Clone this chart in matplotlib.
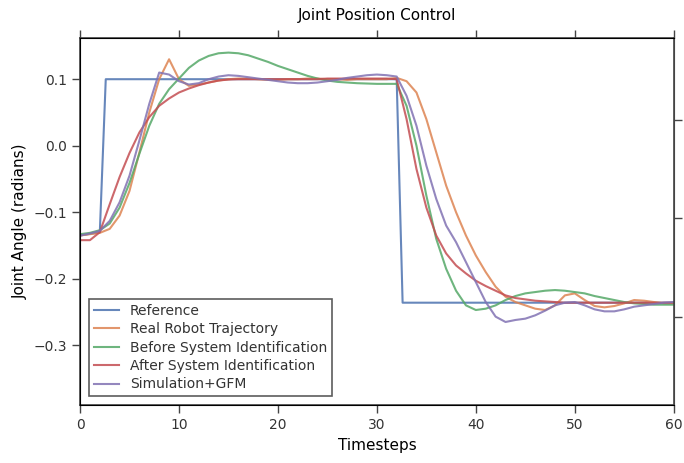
import numpy as np
import matplotlib
matplotlib.use('Agg')
import matplotlib.pyplot as plt

# timesteps for the simulated / measured trajectories
t = np.arange(0, 61)

# reference step command (own time axis)
t_ref = [0, 2, 2.6, 32.0, 32.6, 60]
ref = [-0.135, -0.13, 0.1, 0.1, -0.236, -0.236]

real_robot = [-0.135, -0.133, -0.131, -0.125, -0.105, -0.068, -0.01, 0.05, 0.1, 0.13,
              0.1, 0.09, 0.092, 0.095, 0.098, 0.1, 0.101, 0.101, 0.1, 0.099,
              0.099, 0.1, 0.1, 0.101, 0.101, 0.1, 0.1, 0.099, 0.1, 0.1,
              0.1, 0.1, 0.102, 0.097, 0.08, 0.04, -0.01, -0.06, -0.1, -0.135,
              -0.165, -0.19, -0.212, -0.227, -0.235, -0.24, -0.245, -0.247, -0.24, -0.225,
              -0.222, -0.232, -0.241, -0.243, -0.241, -0.237, -0.232, -0.233, -0.235, -0.237,
              -0.237]

before_sysid = [-0.133, -0.131, -0.127, -0.117, -0.093, -0.056, -0.012, 0.03, 0.063, 0.085,
                0.101, 0.117, 0.128, 0.135, 0.139, 0.14, 0.139, 0.136, 0.131, 0.126,
                0.12, 0.115, 0.11, 0.105, 0.101, 0.098, 0.096, 0.095, 0.094, 0.0935,
                0.093, 0.093, 0.093, 0.06, 0.0, -0.075, -0.14, -0.185, -0.218, -0.24,
                -0.247, -0.245, -0.24, -0.232, -0.226, -0.222, -0.22, -0.218, -0.217, -0.218,
                -0.22, -0.222, -0.226, -0.229, -0.232, -0.235, -0.237, -0.238, -0.239, -0.239,
                -0.239]

after_sysid = [-0.142, -0.142, -0.13, -0.088, -0.047, -0.011, 0.02, 0.043, 0.06, 0.071,
               0.08, 0.086, 0.091, 0.095, 0.098, 0.0995, 0.1, 0.1, 0.1, 0.1,
               0.1, 0.1, 0.1, 0.1, 0.1, 0.101, 0.101, 0.101, 0.101, 0.101,
               0.101, 0.101, 0.1, 0.04, -0.035, -0.093, -0.135, -0.162, -0.18, -0.192,
               -0.203, -0.211, -0.218, -0.225, -0.229, -0.231, -0.233, -0.234, -0.235, -0.236,
               -0.236, -0.236, -0.236, -0.236, -0.236, -0.236, -0.236, -0.236, -0.236, -0.236,
               -0.236]

sim_gfm = [-0.135, -0.132, -0.128, -0.113, -0.085, -0.045, 0.008, 0.063, 0.11, 0.107,
           0.097, 0.092, 0.094, 0.1, 0.104, 0.106, 0.105, 0.103, 0.101, 0.099,
           0.097, 0.095, 0.094, 0.094, 0.095, 0.097, 0.099, 0.102, 0.104, 0.106,
           0.107, 0.106, 0.104, 0.075, 0.03, -0.03, -0.08, -0.12, -0.145, -0.175,
           -0.205, -0.235, -0.257, -0.265, -0.262, -0.26, -0.255, -0.248, -0.24, -0.236,
           -0.235, -0.24, -0.246, -0.249, -0.249, -0.246, -0.242, -0.24, -0.238, -0.236,
           -0.235]

labels = ['Reference', 'Real Robot Trajectory', 'Before System Identification',
          'After System Identification', 'Simulation+GFM']
cols = ['#4C72B0', '#DD8452', '#55A868', '#C44E52', '#8172B3']

fig = plt.figure(figsize=(6.84, 4.63), dpi=100)
ax = fig.add_axes([0.117, 0.125, 0.868, 0.793])

ax.plot(t_ref, ref, color=cols[0], lw=1.5, alpha=0.85, label=labels[0])
ax.plot(t, real_robot, color=cols[1], lw=1.5, alpha=0.85, label=labels[1])
ax.plot(t, before_sysid, color=cols[2], lw=1.5, alpha=0.85, label=labels[2])
ax.plot(t, after_sysid, color=cols[3], lw=1.5, alpha=0.85, label=labels[3])
ax.plot(t, sim_gfm, color=cols[4], lw=1.5, alpha=0.85, label=labels[4])

ax.set_xlim(0, 60)
ax.set_ylim(-0.39, 0.162)
ax.set_xticks([0, 10, 20, 30, 40, 50, 60])
ax.set_yticks([0.1, 0.0, -0.1, -0.2, -0.3])
ax.set_yticklabels(['0.1', '0.0', '\u22120.1', '\u22120.2', '\u22120.3'])
ax.tick_params(direction='out', length=6, width=1, color='#444444',
               labelcolor='#333333', labelsize=10, top=True, right=False)
for s in ax.spines.values():
    s.set_color('#444444')
    s.set_linewidth(1.2)

ax.set_title('Joint Position Control', fontsize=11, pad=13)
ax.set_xlabel('Timesteps', fontsize=11)
ax.set_ylabel('Joint Angle (radians)', fontsize=11)

# ticks of the neighbouring axis on the right edge
ax2 = ax.twinx()
ax2.set_ylim(0, 1)
ax2.set_yticks([0.24, 0.51, 0.777])
ax2.set_yticklabels([])
ax2.tick_params(direction='out', length=6, width=1, color='#444444')
ax2.spines['right'].set_color('#444444')

leg = ax.legend(loc='lower left', fontsize=10, frameon=True, fancybox=False,
                handlelength=1.8, borderpad=0.35, labelspacing=0.32,
                bbox_to_anchor=(0.003, 0.005))
leg.get_frame().set_edgecolor('#333333')
leg.get_frame().set_linewidth(1.2)
for txt in leg.get_texts():
    txt.set_color('#333333')

fig.savefig('out.png', dpi=100)
